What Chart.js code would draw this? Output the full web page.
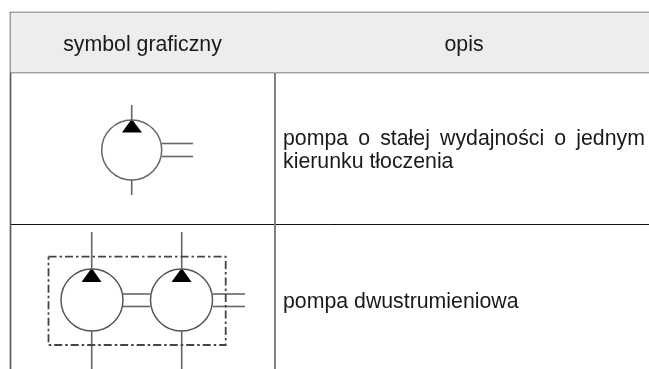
<!DOCTYPE html>
<html>
<head>
<meta charset="utf-8">
<title>symbole pomp</title>
<script src="https://cdn.jsdelivr.net/npm/chart.js@4"></script>
<style>
html, body { margin: 0; padding: 0; background: #fff; }
canvas { display: block; }
</style>
</head>
<body>
<canvas id="Grafica1" width="649" height="369"></canvas>
<script>
// cell text
const naglowki = ["symbol graficzny", "opis"];
const opisy = [["pompa o stałej wydajności o jednym", "kierunku tłoczenia"], ["pompa dwustrumieniowa"]];

// table grid, in picture units
const tloNaglowka = [[10.5, 12.5], [649, 12.5], [649, 72.5], [10.5, 72.5], [10.5, 12.5]];
const ramka = [[649, 12.5], [10.5, 12.5], [10.5, 369]];
const liniaNaglowka = [[10.5, 72.5], [649, 72.5]];
const liniaKolumny = [[275, 12.5], [275, 369]];
const liniaWiersza = [[10.5, 224.5], [649, 224.5]];

// pump symbols
const kola = [[131.7, 150], [92, 300], [181.5, 300]];
const trojkaty = [
    [[131.7, 119], [142, 132.5], [122, 132.5], [131.7, 119]],
    [[91.7, 268], [101.5, 282], [81.5, 282], [91.7, 268]],
    [[181.7, 268], [191.5, 282], [171.5, 282], [181.7, 268]]
];
const rury = [
    [[131.7, 105], [131.7, 120]], [[131.7, 180], [131.7, 195]],
    [[162, 143.5], [193, 143.5]], [[162, 156.5], [193, 156.5]],
    [[91.7, 232], [91.7, 269]], [[91.7, 331], [91.7, 369]],
    [[181.7, 232], [181.7, 269]], [[181.7, 331], [181.7, 369]],
    [[123, 294], [150, 294]], [[123, 306.5], [150, 306.5]],
    [[213, 294], [245, 294]], [[213, 306.5], [245, 306.5]]
];
const obudowa = [[48.5, 256.7], [225.7, 256.7], [225.7, 345], [48.5, 345], [48.5, 256.7]];

function punkty(lista) {
    return lista.map(function (p) { return { x: p[0], y: p[1] }; });
}
function linia(lista, kolor, grubosc, extra) {
    return Object.assign({
        data: punkty(lista),
        showLine: true,
        borderColor: kolor,
        borderWidth: grubosc,
        pointRadius: 0,
        fill: false
    }, extra || {});
}

let datasets = [];
datasets.push(linia(tloNaglowka, "#ededed", 0, { fill: "shape", backgroundColor: "#ededed" }));
datasets.push(linia(liniaKolumny, "#808080", 2));
datasets.push(linia(ramka, "#555555", 1.6));
datasets.push(linia(liniaNaglowka, "#555555", 1.5));
datasets.push(linia(liniaWiersza, "#111111", 1));
datasets.push(linia(obudowa, "#444444", 1.8, { borderDash: [8, 3, 2.5, 3] }));
rury.forEach(function (l) { datasets.push(linia(l, "#666666", 1.6)); });
datasets.push({
    data: punkty(kola.slice(0, 1)),
    pointRadius: 30,
    pointBorderWidth: 1.5,
    pointBorderColor: "#666666",
    pointBackgroundColor: "rgba(0,0,0,0)"
});
datasets.push({
    data: punkty(kola.slice(1)),
    pointRadius: 31,
    pointBorderWidth: 1.5,
    pointBorderColor: "#555555",
    pointBackgroundColor: "rgba(0,0,0,0)"
});
trojkaty.forEach(function (l) { datasets.push(linia(l, "#000000", 0, { fill: "shape", backgroundColor: "#000000" })); });

// draws the cell text through the chart's scales
const tekstTabeli = {
    id: "tekstTabeli",
    afterDatasetsDraw: function (chart) {
        const ctx = chart.ctx;
        const sx = chart.scales.x;
        const sy = chart.scales.y;
        ctx.save();
        ctx.fillStyle = "#1a1a1a";
        ctx.font = "21.3px 'Liberation Sans'";
        ctx.textBaseline = "alphabetic";
        ctx.textAlign = "center";
        ctx.fillText(naglowki[0], sx.getPixelForValue(142.5), sy.getPixelForValue(50.7));
        ctx.fillText(naglowki[1], sx.getPixelForValue(464), sy.getPixelForValue(50.7));
        ctx.textAlign = "left";
        ctx.wordSpacing = "4.2px";
        ctx.fillText(opisy[0][0], sx.getPixelForValue(283), sy.getPixelForValue(145));
        ctx.wordSpacing = "0px";
        ctx.fillText(opisy[0][1], sx.getPixelForValue(283), sy.getPixelForValue(168));
        ctx.fillText(opisy[1][0], sx.getPixelForValue(283), sy.getPixelForValue(307.7));
        ctx.restore();
    }
};

const ctx = document.getElementById("Grafica1").getContext("2d");
const myChart = new Chart(ctx, {
    type: "scatter",
    data: { datasets: datasets },
    plugins: [tekstTabeli],
    options: {
        responsive: false,
        animation: false,
        layout: { padding: 0, autoPadding: false },
        clip: false,
        plugins: { legend: { display: false }, tooltip: { enabled: false } },
        scales: {
            x: { type: "linear", display: false, min: 0, max: 649 },
            y: { type: "linear", display: false, min: 0, max: 369, reverse: true }
        }
    }
});
</script>
</body>
</html>
